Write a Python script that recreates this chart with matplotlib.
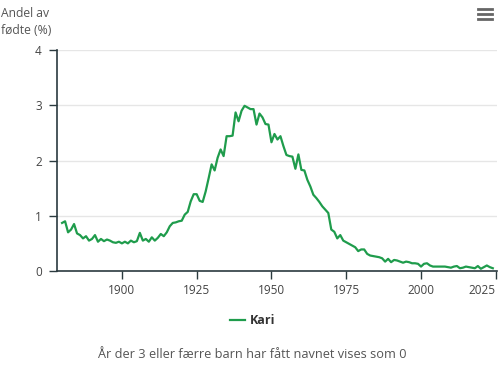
import numpy as np
import matplotlib
matplotlib.use("Agg")
import matplotlib.pyplot as plt
from matplotlib.lines import Line2D

plt.rcParams['font.family'] = ['Open Sans', 'DejaVu Sans']

# andel av fødte med navnet Kari, per år
years = list(range(1880, 2025))
share = [
    0.87, 0.90, 0.70, 0.75, 0.85, 0.68, 0.65, 0.59, 0.63, 0.55,  # 1880-
    0.58, 0.65, 0.53, 0.58, 0.54, 0.57, 0.55, 0.52, 0.51, 0.53,  # 1890-
    0.50, 0.53, 0.50, 0.55, 0.52, 0.54, 0.69, 0.55, 0.58, 0.53,  # 1900-
    0.61, 0.55, 0.60, 0.67, 0.63, 0.70, 0.81, 0.87, 0.88, 0.90,  # 1910-
    0.91, 1.02, 1.07, 1.26, 1.39, 1.39, 1.27, 1.25, 1.44, 1.68,  # 1920-
    1.93, 1.82, 2.05, 2.20, 2.08, 2.44, 2.44, 2.45, 2.87, 2.71,  # 1930-
    2.90, 2.99, 2.96, 2.93, 2.93, 2.65, 2.85, 2.78, 2.66, 2.65,  # 1940-
    2.33, 2.48, 2.38, 2.44, 2.26, 2.10, 2.08, 2.07, 1.85, 2.11,  # 1950-
    1.83, 1.82, 1.65, 1.53, 1.38, 1.32, 1.25, 1.17, 1.11, 1.05,  # 1960-
    0.75, 0.71, 0.59, 0.65, 0.55, 0.52, 0.49, 0.46, 0.43, 0.36,  # 1970-
    0.39, 0.39, 0.31, 0.28, 0.27, 0.26, 0.25, 0.23, 0.17, 0.22,  # 1980-
    0.16, 0.20, 0.19, 0.17, 0.15, 0.17, 0.16, 0.14, 0.14, 0.13,  # 1990-
    0.08, 0.13, 0.14, 0.10, 0.08, 0.08, 0.08, 0.08, 0.08, 0.07,  # 2000-
    0.06, 0.08, 0.09, 0.05, 0.06, 0.08, 0.07, 0.06, 0.05, 0.09,  # 2010-
    0.04, 0.07, 0.10, 0.07, 0.05,                                # 2020-
]
x_ticks = [1900, 1925, 1950, 1975, 2000, 2025]
y_ticks = [0, 1, 2, 3, 4]
name = "Kari"
green = "#1f9c4c"
axis_col = "#2b3a3f"

W, H = 502, 381
fig = plt.figure(figsize=(W / 100, H / 100), dpi=100)
ax = fig.add_axes([57 / W, 1 - 271 / H, (497 - 57) / W, (271 - 50) / H])

ax.plot(years, share, color=green, linewidth=1.6, solid_joinstyle='round')
ax.set_xlim(1878.3, 2025.4)
ax.set_ylim(0, 4)

ax.set_yticks(y_ticks)
ax.set_xticks(x_ticks)
ax.set_yticklabels([str(v) for v in y_ticks])
ax.set_xticklabels([str(v) for v in x_ticks])
ax.tick_params(axis='both', labelsize=8.5, colors=axis_col, labelcolor='#444444',
               length=6, width=1, direction='out')
ax.tick_params(axis='y', pad=5)
ax.tick_params(axis='x', pad=3)
ax.get_xticklabels()[-1].set_ha('right')

ax.grid(axis='y', color='#e6e6e6', linewidth=1)
ax.set_axisbelow(True)
for s in ['top', 'right']:
    ax.spines[s].set_visible(False)
for s in ['left', 'bottom']:
    ax.spines[s].set_color(axis_col)
    ax.spines[s].set_linewidth(1.2)

fig.text(1 / W, 1 - 22 / H, "Andel av\nfødte (%)", fontsize=8.7, color='#555555',
         ha='left', va='center', linespacing=1.45)

# legend
fig.add_artist(Line2D([230 / W, 245 / W], [1 - 320 / H, 1 - 320 / H],
                      color=green, linewidth=1.6, transform=fig.transFigure))
fig.text(250 / W, 1 - 320 / H, name, fontsize=9, fontweight='bold',
         color='#333333', ha='left', va='center')

fig.text(252 / W, 1 - 354 / H,
         "År der 3 eller færre barn har fått navnet vises som 0",
         fontsize=9.2, color='#555555', ha='center', va='center')

# menu icon
for yy in [9, 14, 19]:
    fig.add_artist(Line2D([478 / W, 492 / W], [1 - yy / H, 1 - yy / H],
                          color='#666666', linewidth=2,
                          transform=fig.transFigure))

fig.savefig("out.png", dpi=100)
